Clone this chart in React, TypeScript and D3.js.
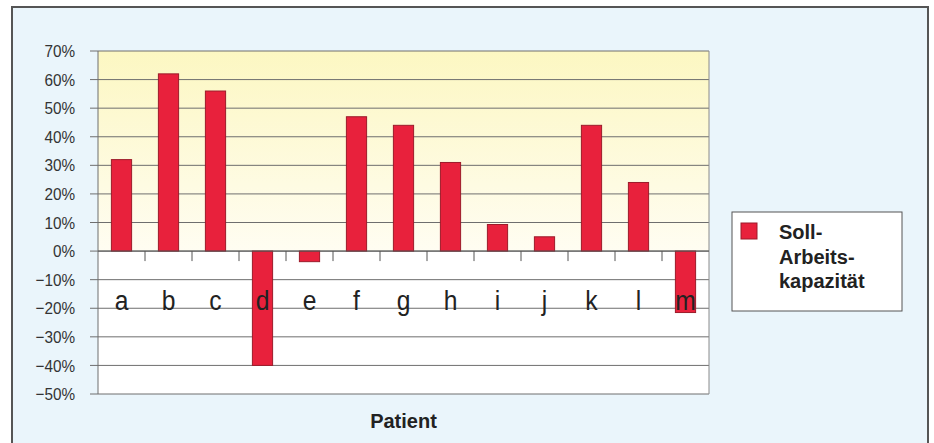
import * as d3 from 'd3';

// values (fraction of Soll-Arbeitskapazität per patient)
const patients = ['a', 'b', 'c', 'd', 'e', 'f', 'g', 'h', 'i', 'j', 'k', 'l', 'm'];
const sollValues = [0.32, 0.62, 0.56, -0.40, -0.037, 0.47, 0.44, 0.31, 0.093, 0.05, 0.44, 0.24, -0.215];
const yTicks = [0.7, 0.6, 0.5, 0.4, 0.3, 0.2, 0.1, 0, -0.1, -0.2, -0.3, -0.4, -0.5];
const legendLines = ['Soll-', 'Arbeits-', 'kapazität'];

const W = 934;
const H = 443;
const plot = { left: 98, right: 709, top: 51, bottom: 394 };
const font = "'Liberation Sans', Arial, Helvetica, sans-serif";

export default function App() {
  const x = d3.scaleBand<string>()
    .domain(patients)
    .range([plot.left, plot.right])
    .paddingInner(0.57)
    .paddingOuter(0.285);
  const band = d3.scaleBand<string>().domain(patients).range([plot.left, plot.right]);
  const y = d3.scaleLinear().domain([-0.5, 0.7]).range([plot.bottom, plot.top]);
  const fmt = (v: number) => d3.format('.0%')(v).replace('-', '\u2212');
  const y0 = y(0);

  return (
    <svg width={W} height={H} style={{ position: 'absolute', left: 0, top: 0, background: '#fff' }}>
      <defs>
        <linearGradient id="upper" x1="0" y1="0" x2="0" y2="1">
          <stop offset="0%" stopColor="#fcf7c2" />
          <stop offset="100%" stopColor="#fffdf2" />
        </linearGradient>
      </defs>
      {/* outer frame */}
      <rect x={12} y={7} width={916} height={460} fill="#eaf5fb" stroke="#555" strokeWidth={2} />

      {/* plot background */}
      <rect x={plot.left} y={plot.top} width={plot.right - plot.left} height={y0 - plot.top} fill="url(#upper)" />
      <rect x={plot.left} y={y0} width={plot.right - plot.left} height={plot.bottom - y0} fill="#fff" />

      {/* grid lines + y axis */}
      {yTicks.map(t => (
        <g key={t}>
          <line x1={plot.left - 8} x2={plot.right} y1={y(t)} y2={y(t)} stroke="#6e6e6e" strokeWidth={1} />
          <text transform={`translate(75,${y(t)}) scale(0.9,1)`} dy="0.36em" textAnchor="end"
            fontFamily={font} fontSize={17} fill="#333">
            {fmt(t)}
          </text>
        </g>
      ))}
      <line x1={plot.left} x2={plot.left} y1={plot.top} y2={plot.bottom} stroke="#6e6e6e" />
      <line x1={plot.right} x2={plot.right} y1={plot.top} y2={plot.bottom} stroke="#8a8a8a" />

      {/* bars */}
      {patients.map((p, i) => {
        const v = sollValues[i];
        return (
          <rect key={p} x={x(p)} width={x.bandwidth()}
            y={Math.min(y(v), y0)} height={Math.abs(y(v) - y0)}
            fill="#e8213c" stroke="#9c1b2a" strokeWidth={1} />
        );
      })}

      {/* category axis */}
      <line x1={plot.left} x2={plot.right} y1={y0} y2={y0} stroke="#555" />
      {patients.slice(1).map(p => (
        <line key={p} x1={band(p)} x2={band(p)} y1={y0} y2={y0 + 10} stroke="#555" />
      ))}
      {patients.map(p => (
        <text key={p} transform={`translate(${(x(p) ?? 0) + x.bandwidth() / 2},310) scale(0.88,1)`}
          textAnchor="middle" fontFamily={font} fontSize={28} fill="#222">{p}</text>
      ))}
      <text x={(plot.left + plot.right) / 2} y={428} textAnchor="middle" fontFamily={font}
        fontSize={20} fontWeight="bold" fill="#222">Patient</text>

      {/* legend */}
      <rect x={732} y={212} width={170} height={99} fill="#fff" stroke="#555" />
      <rect x={741} y={223} width={16} height={16} fill="#e8213c" stroke="#9c1b2a" />
      {legendLines.map((l, i) => (
        <text key={l} x={779} y={239 + i * 24.5} fontFamily={font} fontSize={20}
          fontWeight="bold" fill="#222">{l}</text>
      ))}
    </svg>
  );
}
